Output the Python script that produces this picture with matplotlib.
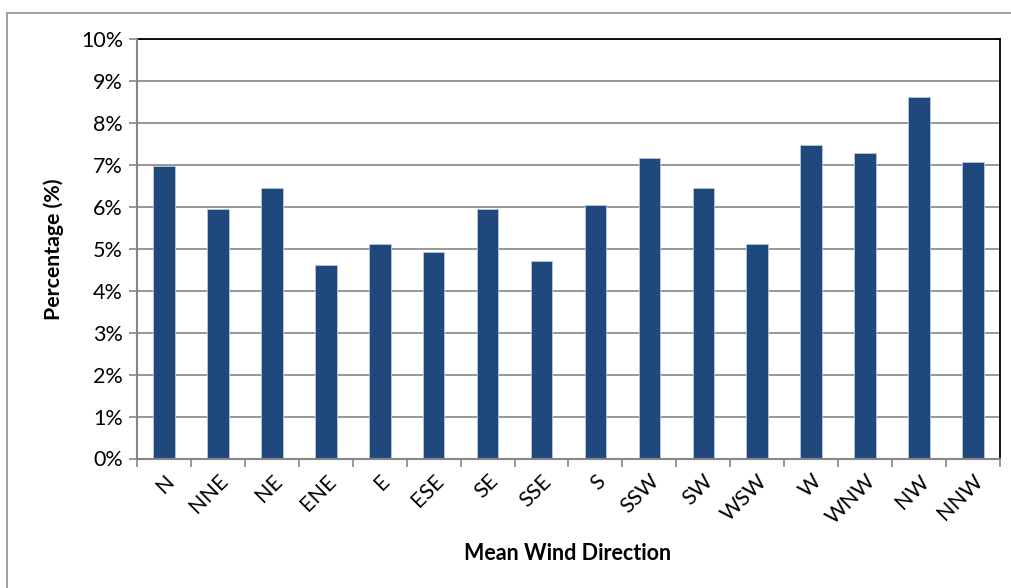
import matplotlib
matplotlib.use("Agg")
import matplotlib.pyplot as plt
from matplotlib.patches import Rectangle
from matplotlib.ticker import FuncFormatter, MultipleLocator, FixedLocator
import numpy as np

directions = ["N", "NNE", "NE", "ENE", "E", "ESE", "SE", "SSE",
              "S", "SSW", "SW", "WSW", "W", "WNW", "NW", "NNW"]
percentages = [6.98, 5.94, 6.46, 4.61, 5.12, 4.92, 5.94, 4.72,
               6.05, 7.17, 6.46, 5.12, 7.48, 7.28, 8.62, 7.08]

plt.rcParams['font.family'] = ['Lato', 'DejaVu Sans']

fig = plt.figure(figsize=(10.12, 5.88), dpi=100)
W, H = 1012, 588
ax = fig.add_axes([137 / W, 1 - 458.5 / H, (1000 - 137) / W, (458.5 - 39.3) / H])

x = np.arange(len(directions))
ax.bar(x, percentages, width=0.4, color="#1F497D", edgecolor="#B8C7DC",
       linewidth=0.6, zorder=3)

ax.set_xlim(-0.5, len(directions) - 0.5)
ax.set_ylim(0, 10)
ax.yaxis.set_major_locator(MultipleLocator(1))
ax.yaxis.set_major_formatter(FuncFormatter(lambda v, _: f"{v:.0f}%"))
ax.grid(axis="y", color="#868686", linewidth=1.2, zorder=0)

# category labels centred under bars, tick marks on category boundaries
ax.set_xticks(x)
ax.set_xticklabels(directions, rotation=45, ha="right", va="top",
                   rotation_mode="anchor", fontsize=15.5)
ax.tick_params(axis="x", which="major", length=0, pad=9)
ax.xaxis.set_minor_locator(FixedLocator(np.arange(-0.5, len(directions), 1)))
ax.tick_params(axis="x", which="minor", length=6, width=1.2, color="#868686",
               direction="out")
ax.tick_params(axis="y", length=6, width=1.2, color="#868686",
               labelsize=15.5, pad=4)

for side in ("top", "right"):
    ax.spines[side].set_color("black")
    ax.spines[side].set_linewidth(1.3)
for side in ("left", "bottom"):
    ax.spines[side].set_color("#868686")
    ax.spines[side].set_linewidth(1.5)
    ax.spines[side].set_zorder(4)

ax.set_ylabel("Percentage (%)", fontsize=15.3, fontweight="bold", labelpad=12)
fig.text(568 / W, 1 - 553 / H, "Mean Wind Direction", fontsize=15.5,
         fontweight="bold", ha="center", va="center")

# outer chart frame
fig.patches.append(Rectangle((7 / W, -0.1), 1.2, 1 - 13.3 / H + 0.1,
                             transform=fig.transFigure, fill=False,
                             edgecolor="#9a9a9a", linewidth=1.3))

fig.savefig("out.png", dpi=100)
